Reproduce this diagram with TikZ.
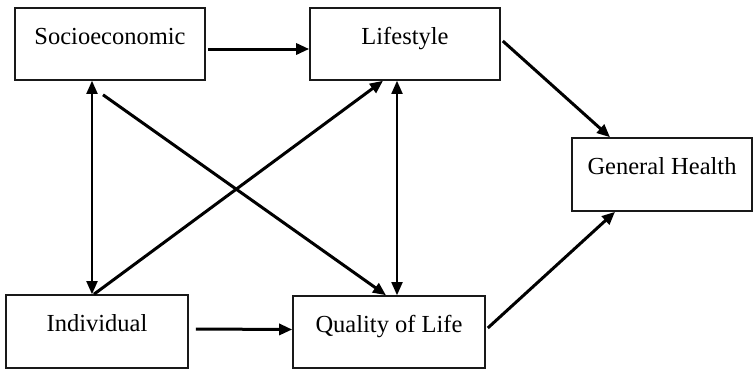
\documentclass[tikz,border=0pt]{standalone}
\usepackage{fontspec}
\setmainfont{Liberation Serif}
\usetikzlibrary{arrows.meta}
\begin{document}
\begin{tikzpicture}[x=1bp,y=-1bp,
  box/.style={draw=black!90,line width=1.6bp,rectangle,inner sep=0pt,
    font=\fontsize{24.5bp}{28bp}\selectfont,text height=22bp,text depth=22bp},
  tip/.style={Triangle[length=13bp,width=11bp]},
  thickarrow/.style={line width=3bp,-{Triangle[length=13bp,width=11bp]}},
  thinarrow/.style={line width=1.8bp,{Triangle[length=13bp,width=11bp]}-{Triangle[length=13bp,width=11bp]}}]
\useasboundingbox (0,0) rectangle (754,369);
\node[box,minimum width=190bp,minimum height=72bp] (soc) at (110,44) {Socioeconomic};
\node[box,minimum width=190bp,minimum height=72bp] (life) at (405,44) {Lifestyle};
\node[box,minimum width=180bp,minimum height=73bp] (gh) at (662,174.5) {General Health};
\node[box,minimum width=182bp,minimum height=73bp] (indiv) at (97,331.5) {Individual};
\node[box,minimum width=192bp,minimum height=72bp] (qol) at (389,332) {Quality of Life};
\draw[thickarrow] ([xshift=2bp,yshift=-5bp]soc.east) -- ([yshift=-5bp]life.west);
\draw[thickarrow] ([xshift=7bp,yshift=2.5bp]indiv.east) -- ([yshift=2.5bp]qol.west);
\draw[thickarrow] ([xshift=2bp,yshift=3bp]life.east) -- ([xshift=-52bp]gh.north);
\draw[thickarrow] ([xshift=2bp,yshift=4bp]qol.east) -- ([xshift=-47bp]gh.south);
\draw[thinarrow] ([xshift=-18bp]soc.south) -- ([xshift=-5bp]indiv.north);
\draw[thinarrow] ([xshift=-8bp]life.south) -- ([xshift=8bp]qol.north);
\draw[thickarrow] ([xshift=-7bp,yshift=-14bp]soc.south) -- ([xshift=-3bp]qol.north);
\draw[thickarrow] ([xshift=-3bp]indiv.north) -- ([xshift=-22bp]life.south);
\end{tikzpicture}
\end{document}
